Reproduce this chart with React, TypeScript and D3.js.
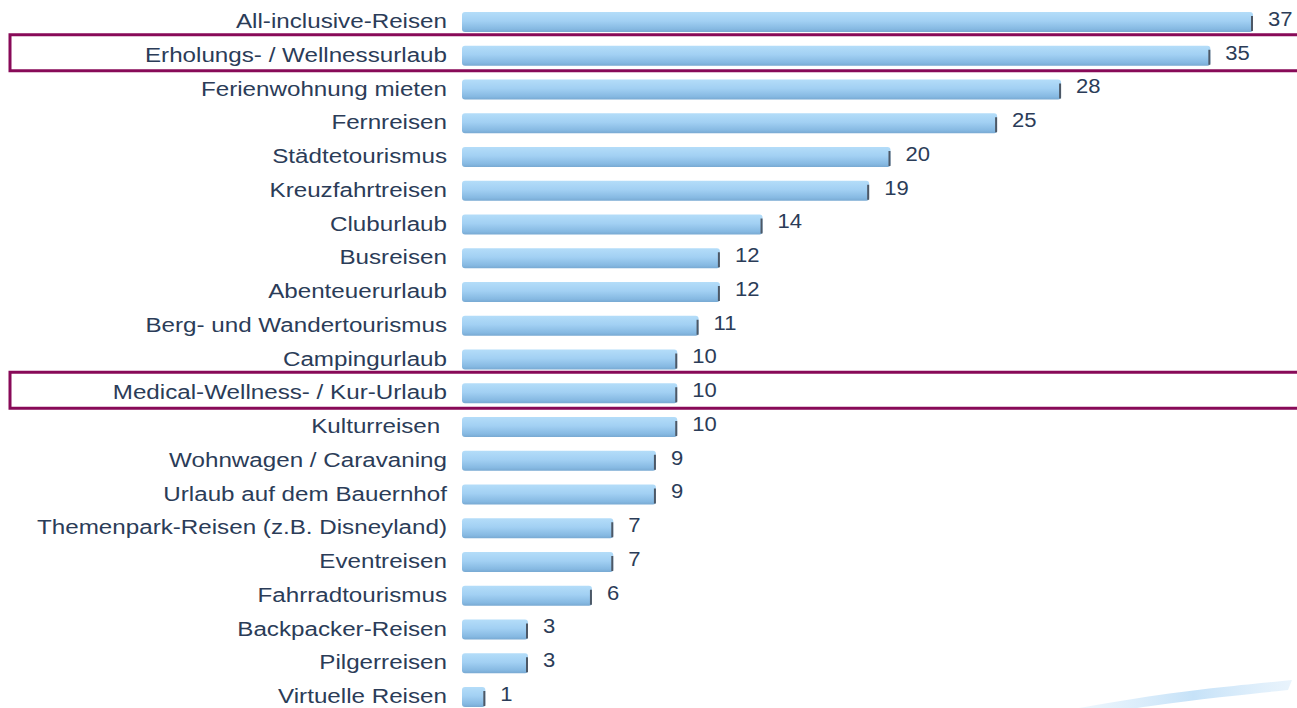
import React from "react";
import * as d3 from "d3";

const categories = [
  "All-inclusive-Reisen",
  "Erholungs- / Wellnessurlaub",
  "Ferienwohnung mieten",
  "Fernreisen",
  "Städtetourismus",
  "Kreuzfahrtreisen",
  "Cluburlaub",
  "Busreisen",
  "Abenteuerurlaub",
  "Berg- und Wandertourismus",
  "Campingurlaub",
  "Medical-Wellness- / Kur-Urlaub",
  "Kulturreisen ",
  "Wohnwagen / Caravaning",
  "Urlaub auf dem Bauernhof",
  "Themenpark-Reisen (z.B. Disneyland)",
  "Eventreisen",
  "Fahrradtourismus",
  "Backpacker-Reisen",
  "Pilgerreisen",
  "Virtuelle Reisen",
];
const values = [37, 35, 28, 25, 20, 19, 14, 12, 12, 11, 10, 10, 10, 9, 9, 7, 7, 6, 3, 3, 1];
const highlighted = ["Erholungs- / Wellnessurlaub", "Medical-Wellness- / Kur-Urlaub"];

const W = 1297;
const H = 708;

export default function App() {
  const x = d3.scaleLinear().domain([0, 37]).range([464, 1253]);
  const y = d3.scalePoint<string>().domain(categories).range([22, 697]);
  const barH = 20;
  const textColor = "#2b3c58";
  const font = "'Liberation Sans', Arial, sans-serif";

  const swoosh = d3.line<[number, number]>().curve(d3.curveBasis);
  const swooshTop: [number, number][] = [[1045, 714], [1140, 697], [1220, 687], [1292, 680]];
  const swooshBot: [number, number][] = [[1288, 690], [1220, 697], [1150, 706], [1075, 717]];

  return (
    <svg width={W} height={H} style={{ position: "absolute", left: 0, top: 0, background: "#fff" }}>
      <defs>
        <linearGradient id="barGrad" x1="0" y1="0" x2="0" y2="1">
          <stop offset="0%" stopColor="#b4ddf9" />
          <stop offset="45%" stopColor="#a2d0f3" />
          <stop offset="85%" stopColor="#86b9e2" />
          <stop offset="100%" stopColor="#78a9d2" />
        </linearGradient>
        <linearGradient id="swooshGrad" x1="0" y1="0" x2="1" y2="0">
          <stop offset="0%" stopColor="#d6ebfa" stopOpacity="0.2" />
          <stop offset="60%" stopColor="#c6e2f8" stopOpacity="1" />
          <stop offset="100%" stopColor="#e0effb" stopOpacity="0.7" />
        </linearGradient>
      </defs>
      <path
        d={(swoosh(swooshTop) || "") + "L" + (swoosh(swooshBot) || "").slice(1) + "Z"}
        fill="url(#swooshGrad)"
      />
      {categories.map((c, i) => {
        const cy = y(c)!;
        const x0 = x(0);
        const x1 = x(values[i]);
        return (
          <g key={c}>
            <g transform={`translate(447,${cy - 1}) scale(1.21,1)`}>
              <text
                x={0}
                y={0}
                dy="0.35em"
                textAnchor="end"
                fontFamily={font}
                fontSize={20}
                fill={textColor}
                style={{ whiteSpace: "pre" }}
              >
                {c}
              </text>
            </g>
            <rect x={x0 - 2} y={cy - barH / 2} width={x1 - x0 + 2} height={barH} rx={3} fill="url(#barGrad)" />
            <line x1={x1 - 1} x2={x1 - 1} y1={cy - barH / 2 + 4} y2={cy + barH / 2 - 1} stroke="#4d5866" strokeWidth={2} />
            <g transform={`translate(${x1 + 15},${cy - 3}) scale(1.13,1)`}>
              <text x={0} y={0} dy="0.35em" fontFamily={font} fontSize={19.5} fill={textColor}>
                {values[i]}
              </text>
            </g>
          </g>
        );
      })}
      {highlighted.map((c) => {
        const cy = y(c)!;
        return (
          <rect
            key={c}
            x={10}
            y={cy - 21}
            width={W + 20}
            height={36}
            fill="none"
            stroke="#880a58"
            strokeWidth={3}
          />
        );
      })}
    </svg>
  );
}
